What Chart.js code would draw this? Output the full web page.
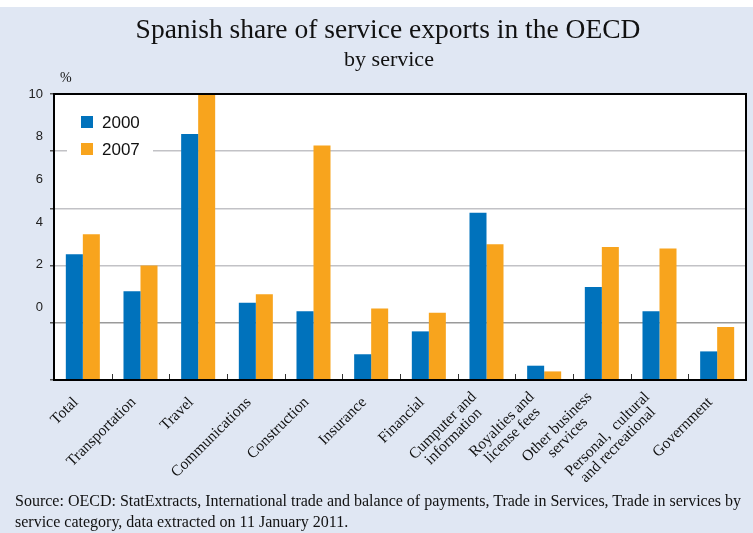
<!DOCTYPE html>
<html>
<head>
<meta charset="utf-8">
<script src="https://cdn.jsdelivr.net/npm/chart.js@4/dist/chart.umd.min.js"></script>
<style>
  html, body { margin: 0; padding: 0; background: #ffffff; }
  #wrap { position: relative; width: 753px; height: 533px; overflow: hidden; }
  #panel { position: absolute; left: 0; top: 7px; width: 753px; height: 526px; background: #e0e7f3; }
  canvas { position: absolute; left: 0; top: 0; }
  .txt { position: absolute; white-space: nowrap; color: #111; font-family: "Liberation Serif", "Times New Roman", serif; }
  #title { left: 388px; top: 14px; transform: translateX(-50%); font-size: 27.5px; line-height: 30px; }
  #subtitle { left: 389px; top: 47px; transform: translateX(-50%); font-size: 22px; line-height: 24px; }
  #pct { left: 60px; top: 70px; font-size: 14px; line-height: 16px; }
  #source { left: 15px; top: 490px; font-size: 16px; line-height: 21px; }
</style>
</head>
<body>
<div id="wrap">
  <div id="panel"></div>
  <canvas id="chart" width="753" height="533"></canvas>
  <div class="txt" id="title">Spanish share of service exports in the OECD</div>
  <div class="txt" id="subtitle">by service</div>
  <div class="txt" id="pct">%</div>
  <div class="txt" id="source">Source: OECD: StatExtracts, International trade and balance of payments, Trade in Services, Trade in services by<br>service category, data extracted on 11 January 2011.</div>
</div>
<script>
// Service categories (multi-line names are arrays of lines)
const categories = [
  'Total', 'Transportation', 'Travel', 'Communications', 'Construction',
  'Insurance', 'Financial', ['Cumputer and', 'information'],
  ['Royalties and', 'license fees'], ['Other business', 'services'],
  ['Personal,  cultural', 'and recreational'], 'Government'
];
// Spanish share of OECD service exports, %
const share2000 = [4.4, 3.1, 8.6, 2.7, 2.4, 0.9, 1.7, 5.85, 0.5, 3.25, 2.4, 1.0];
const share2007 = [5.1, 4.0, 10.0, 3.0, 8.2, 2.5, 2.35, 4.75, 0.3, 4.65, 4.6, 1.85];
const seriesNames = ['2000', '2007'];
const seriesColors = ['#0072bc', '#f8a41d'];
// Printed y-axis tick labels
const yTickLabels = [0, 2, 4, 6, 8, 10];

// White plot background
const plotBackground = {
  id: 'plotBackground',
  beforeDraw(chart) {
    const a = chart.chartArea;
    chart.ctx.save();
    chart.ctx.fillStyle = '#ffffff';
    chart.ctx.fillRect(a.left, a.top, a.right - a.left, a.bottom - a.top);
    chart.ctx.restore();
  }
};

// Frame, category separator ticks, inside legend and rotated category labels
const decorations = {
  id: 'decorations',
  afterDatasetsDraw(chart) {
    const ctx = chart.ctx;
    const area = chart.chartArea;
    const xs = chart.scales.x;
    ctx.save();

    // short separator ticks standing on the bottom axis
    ctx.strokeStyle = '#333';
    ctx.lineWidth = 1;
    for (let i = 0; i < categories.length - 1; i++) {
      const bx = Math.round((xs.getPixelForValue(i) + xs.getPixelForValue(i + 1)) / 2) + 0.5;
      ctx.beginPath();
      ctx.moveTo(bx, area.bottom);
      ctx.lineTo(bx, area.bottom - 6);
      ctx.stroke();
    }

    // legend box inside the plot
    const lx = area.left + 13, ly = area.top + 11;
    ctx.fillStyle = '#ffffff';
    ctx.fillRect(lx, ly, 86, 60);
    ctx.font = '17px "Liberation Sans", Arial, sans-serif';
    ctx.textBaseline = 'middle';
    ctx.textAlign = 'left';
    chart.data.datasets.forEach((ds, i) => {
      const cy = area.top + 28 + i * 27;
      ctx.fillStyle = ds.backgroundColor;
      ctx.fillRect(area.left + 27, cy - 6, 12, 12);
      ctx.fillStyle = '#111';
      ctx.fillText(ds.label, area.left + 48, cy + 1);
    });

    // plot frame
    ctx.strokeStyle = '#000';
    ctx.lineWidth = 2;
    ctx.strokeRect(area.left, area.top, area.right - area.left, area.bottom - area.top);

    // rotated category labels, lines centred on each other
    ctx.font = '15.5px "Liberation Serif", "Times New Roman", serif';
    ctx.fillStyle = '#111';
    ctx.textBaseline = 'middle';
    ctx.textAlign = 'center';
    const lh = 15;
    categories.forEach((lab, i) => {
      const lines = Array.isArray(lab) ? lab : [lab];
      const w = Math.max(...lines.map(s => ctx.measureText(s).width));
      const cx = xs.getPixelForValue(i);
      ctx.save();
      ctx.translate(cx - 7, area.bottom + 20);
      ctx.rotate(-Math.PI / 4);
      lines.forEach((s, k) => {
        ctx.fillText(s, -w / 2, (k - (lines.length - 1) / 2) * lh);
      });
      ctx.restore();
    });
    ctx.restore();
  }
};

new Chart(document.getElementById('chart'), {
  type: 'bar',
  data: {
    labels: categories,
    datasets: [
      { label: seriesNames[0], data: share2000, backgroundColor: seriesColors[0], yAxisID: 'y' },
      { label: seriesNames[1], data: share2007, backgroundColor: seriesColors[1], yAxisID: 'y' }
    ]
  },
  options: {
    responsive: false,
    animation: false,
    devicePixelRatio: 1,
    layout: { padding: { left: 0, top: 94, right: 7, bottom: 153 } },
    datasets: { bar: { barPercentage: 1.0, categoryPercentage: 0.59, borderWidth: 0 } },
    plugins: { legend: { display: false }, tooltip: { enabled: false }, title: { display: false } },
    scales: {
      x: {
        grid: { display: false, drawTicks: false },
        border: { display: false },
        ticks: { display: false }
      },
      y: {
        position: 'left',
        weight: 0,
        min: 0,
        max: 10,
        ticks: { display: false, stepSize: 2 },
        border: { display: false },
        grid: {
          color: (c) => (c.tick && c.tick.value === 2 ? '#9a9a9a' : '#c2c2c6'),
          lineWidth: 1.5,
          drawTicks: true,
          tickLength: 4,
          tickColor: '#555'
        }
      },
      yl: {
        position: 'left',
        weight: 1,
        min: -3.4,
        max: 10,
        afterBuildTicks(scale) { scale.ticks = yTickLabels.map(v => ({ value: v })); },
        afterFit(scale) { scale.width = 50; },
        grid: { display: false, drawTicks: false },
        border: { display: false },
        ticks: {
          padding: 7,
          color: '#222',
          font: { family: '"Liberation Sans", Arial, sans-serif', size: 13 }
        }
      }
    }
  },
  plugins: [plotBackground, decorations]
});
</script>
</body>
</html>
